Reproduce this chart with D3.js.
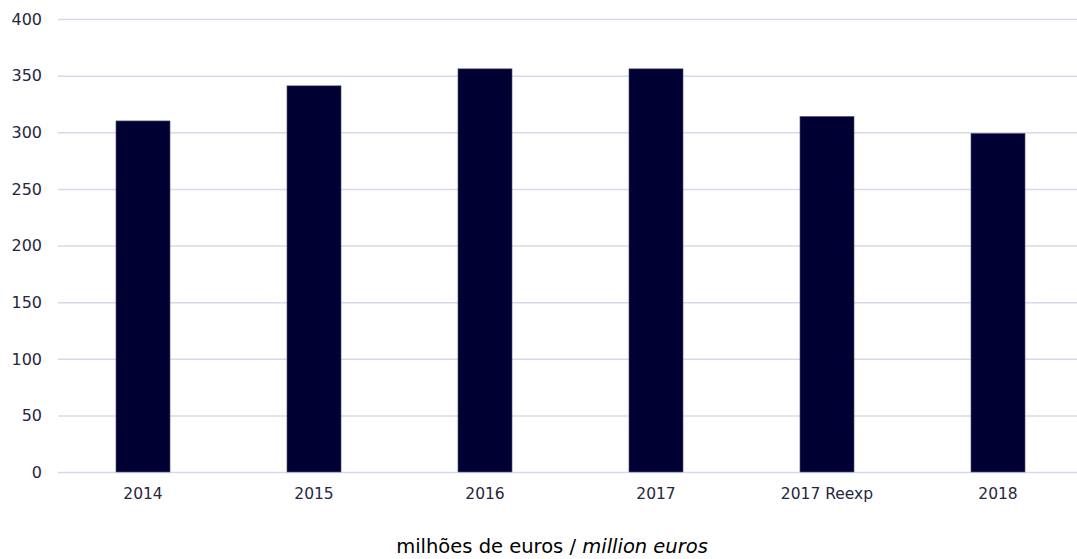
<!DOCTYPE html>
<html>
<head>
<meta charset="utf-8">
<script src="https://cdn.jsdelivr.net/npm/d3@7"></script>
<style>
  body { margin: 0; background: #fff; }
  svg text { font-family: "DejaVu Sans", sans-serif; }
</style>
</head>
<body>
<svg id="chart" width="1077" height="559"></svg>
<script>
// data
var categories = ["2014", "2015", "2016", "2017", "2017 Reexp", "2018"];
var values = [310, 341, 356, 356, 314, 299];
var yTicks = [0, 50, 100, 150, 200, 250, 300, 350, 400];

var svg = d3.select("#chart");
var plotLeft = 58, plotRight = 1077, plotTop = 19, plotBottom = 472;

var x = d3.scaleBand()
    .domain(categories)
    .range([57.5, 1083.5])
    .paddingInner(0.684)
    .paddingOuter(0.342);

var y = d3.scaleLinear()
    .domain([0, 400])
    .range([plotBottom, plotTop]);

// gridlines
svg.append("g")
    .selectAll("line")
    .data(yTicks)
    .join("line")
    .attr("x1", plotLeft)
    .attr("x2", plotRight)
    .attr("y1", function (d) { return y(d) + 0.5; })
    .attr("y2", function (d) { return y(d) + 0.5; })
    .attr("stroke", "#d8d8ec")
    .attr("stroke-width", 1.5);

// y axis labels
svg.append("g")
    .selectAll("text")
    .data(yTicks)
    .join("text")
    .attr("x", 42)
    .attr("y", function (d) { return y(d); })
    .attr("dy", "0.36em")
    .attr("text-anchor", "end")
    .attr("fill", "#26263f")
    .style("font-size", "16px")
    .text(function (d) { return d; });

// bars
svg.append("g")
    .selectAll("rect")
    .data(values)
    .join("rect")
    .attr("x", function (d, i) { return x(categories[i]); })
    .attr("y", function (d) { return y(d); })
    .attr("width", x.bandwidth())
    .attr("height", function (d) { return y(0) - y(d); })
    .attr("fill", "#000033")
    .attr("stroke", "#5a5a80")
    .attr("stroke-width", 0.6);

// x axis labels
svg.append("g")
    .selectAll("text")
    .data(categories)
    .join("text")
    .attr("x", function (d) { return x(d) + x.bandwidth() / 2; })
    .attr("y", 499)
    .attr("text-anchor", "middle")
    .attr("fill", "#26263f")
    .style("font-size", "15.5px")
    .text(function (d) { return d; });

// caption
var caption = svg.append("text")
    .attr("x", 552)
    .attr("y", 553)
    .attr("text-anchor", "middle")
    .attr("fill", "#000")
    .style("font-size", "19.5px");
caption.append("tspan").text("milhões de euros / ");
caption.append("tspan").style("font-style", "italic").text("million euros");
</script>
</body>
</html>
